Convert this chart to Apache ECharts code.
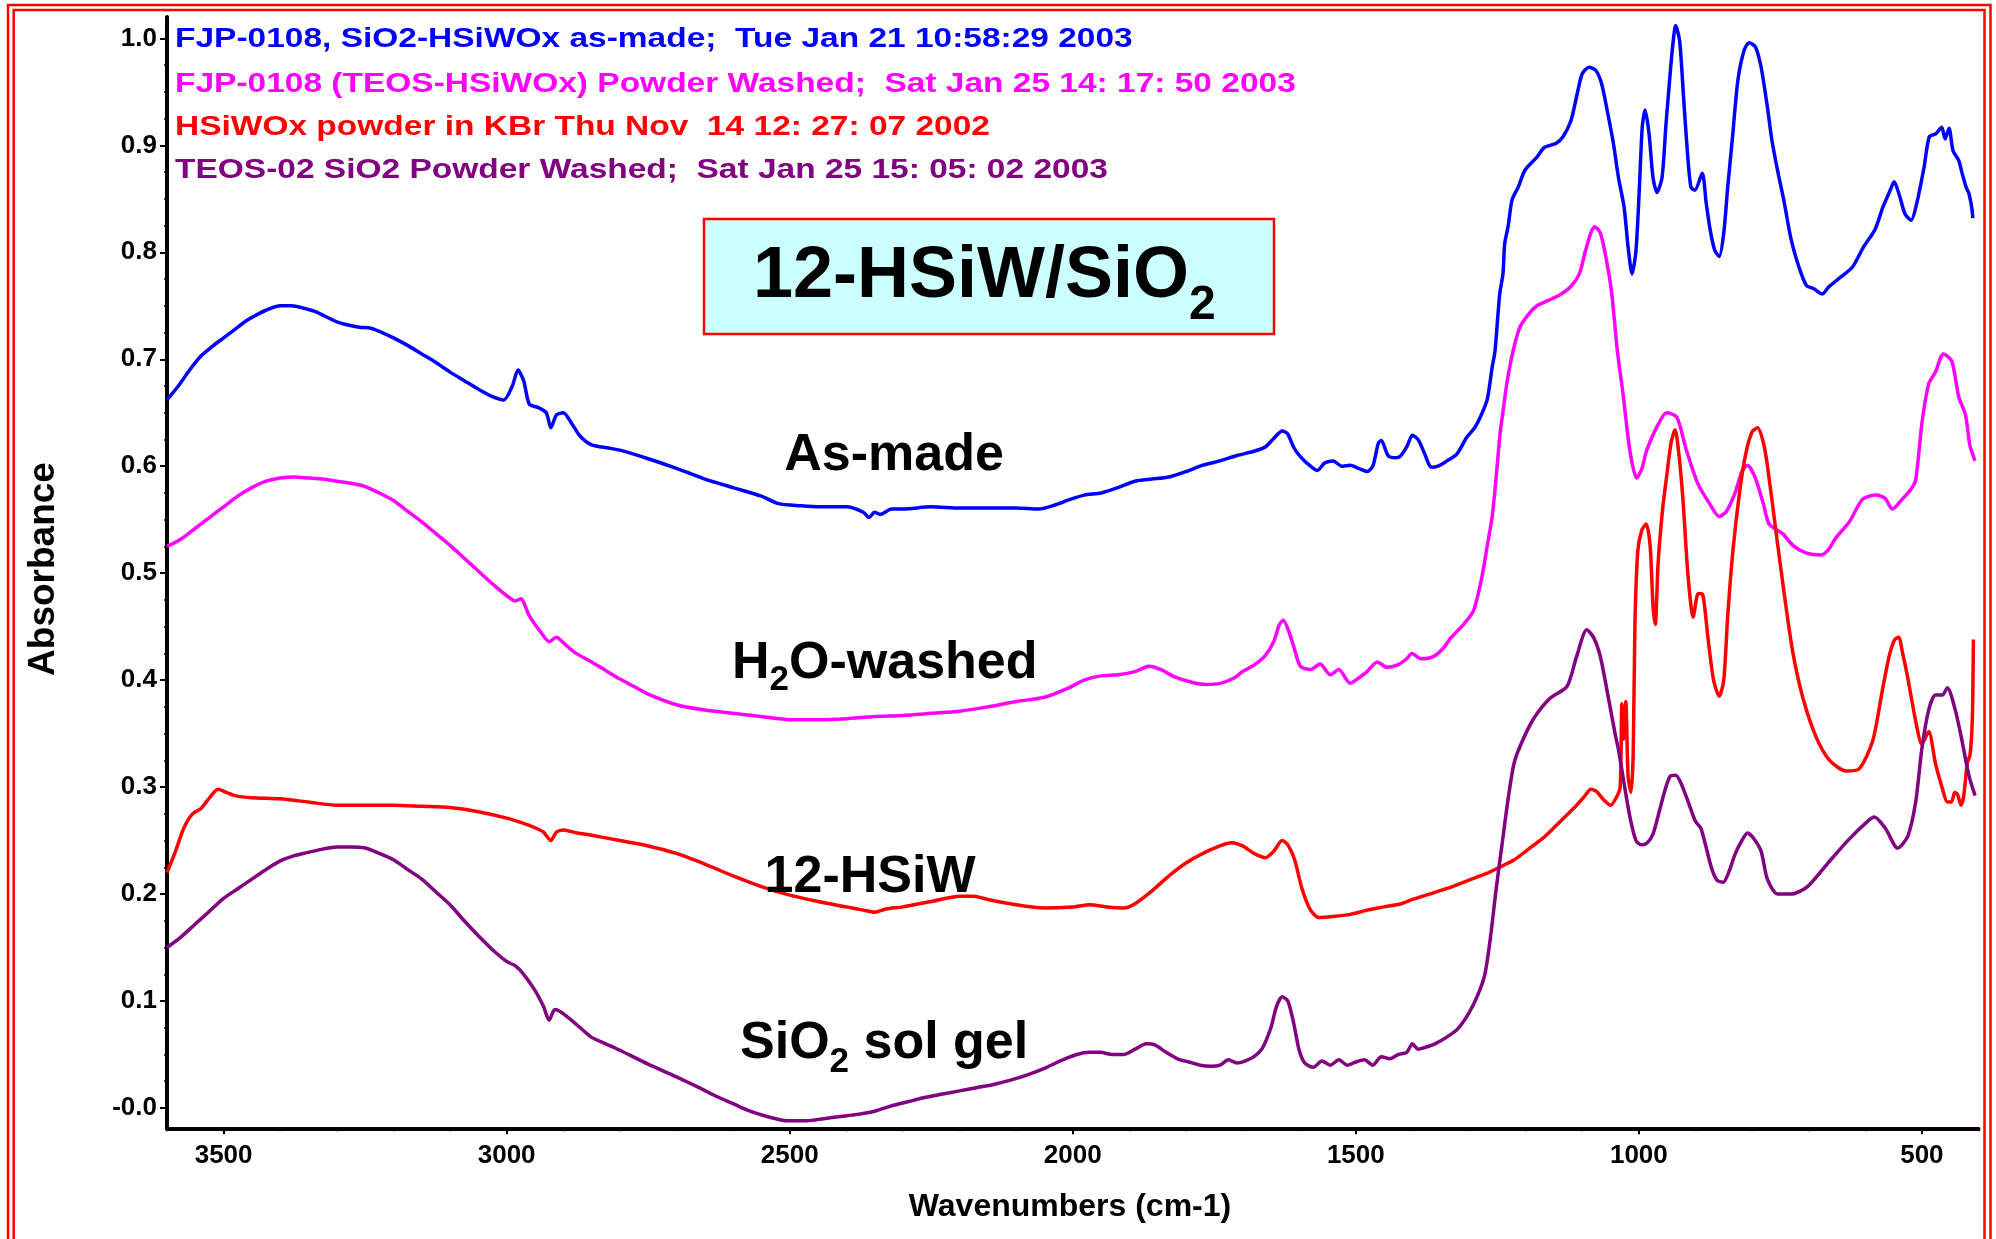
<!DOCTYPE html>
<html><head><meta charset="utf-8">
<script src="https://cdn.jsdelivr.net/npm/echarts@6/dist/echarts.min.js"></script>
<style>html,body{margin:0;padding:0;background:#fff}#c{width:1996px;height:1239px}</style>
</head><body><div id="c"></div>
<script>
// ---------------- DATA ----------------
const xMajorTicks = [3500, 3000, 2500, 2000, 1500, 1000, 500];
const xTickText = ['3500', '3000', '2500', '2000', '1500', '1000', '500'];
const yMajorTicks = [0, 0.1, 0.2, 0.3, 0.4, 0.5, 0.6, 0.7, 0.8, 0.9, 1.0];
const yTickText = ['-0.0', '0.1', '0.2', '0.3', '0.4', '0.5', '0.6', '0.7', '0.8', '0.9', '1.0'];

const legendLines = [
  'FJP-0108, SiO2-HSiWOx as-made;  Tue Jan 21 10:58:29 2003',
  'FJP-0108 (TEOS-HSiWOx) Powder Washed;  Sat Jan 25 14: 17: 50 2003',
  'HSiWOx powder in KBr Thu Nov  14 12: 27: 07 2002',
  'TEOS-02 SiO2 Powder Washed;  Sat Jan 25 15: 05: 02 2003'
];

// As-made (blue): [wavenumber, absorbance]
const asMade = [
[3600,0.662],[3580,0.675],[3560,0.690],[3540,0.703],[3520,0.712],[3500,0.720],[3480,0.728],[3460,0.736],[3440,0.742],[3420,0.747],
[3400,0.750],[3380,0.750],[3360,0.748],[3340,0.745],[3320,0.740],[3300,0.735],[3280,0.732],[3260,0.730],[3240,0.729],[3220,0.725],
[3200,0.720],[3175,0.713],[3150,0.705],[3125,0.697],[3100,0.688],[3075,0.680],[3050,0.672],[3025,0.665],[3005,0.662],[2990,0.675],
[2980,0.690],[2970,0.680],[2960,0.658],[2945,0.655],[2930,0.650],[2922,0.636],[2912,0.648],[2900,0.650],[2885,0.640],[2870,0.628],
[2850,0.620],[2820,0.617],[2800,0.615],[2750,0.607],[2700,0.598],[2650,0.588],[2600,0.580],[2550,0.572],[2520,0.565],[2480,0.563],
[2446,0.562],[2400,0.562],[2370,0.557],[2360,0.552],[2350,0.557],[2340,0.555],[2320,0.560],[2300,0.560],[2250,0.562],[2200,0.561],
[2150,0.561],[2100,0.561],[2060,0.560],[2030,0.564],[2010,0.568],[1980,0.573],[1950,0.575],[1920,0.580],[1890,0.586],[1860,0.588],
[1830,0.590],[1800,0.595],[1770,0.601],[1740,0.605],[1710,0.610],[1680,0.614],[1660,0.618],[1645,0.626],[1630,0.633],[1620,0.630],
[1610,0.618],[1598,0.609],[1580,0.600],[1568,0.596],[1555,0.603],[1540,0.605],[1525,0.600],[1510,0.601],[1495,0.598],[1480,0.595],
[1470,0.600],[1460,0.622],[1455,0.624],[1443,0.610],[1430,0.608],[1422,0.609],[1410,0.618],[1400,0.629],[1390,0.625],[1381,0.615],
[1366,0.599],[1355,0.600],[1339,0.605],[1322,0.611],[1304,0.627],[1290,0.636],[1280,0.646],[1268,0.662],[1259,0.693],[1254,0.708],
[1246,0.760],[1240,0.780],[1237,0.808],[1231,0.824],[1224,0.849],[1213,0.861],[1201,0.877],[1180,0.889],[1167,0.898],[1146,0.902],
[1134,0.908],[1120,0.923],[1109,0.948],[1100,0.967],[1088,0.973],[1076,0.970],[1066,0.958],[1056,0.933],[1045,0.902],[1036,0.870],
[1026,0.842],[1019,0.805],[1012,0.780],[1005,0.802],[999,0.861],[994,0.917],[989,0.933],[982,0.911],[975,0.870],[968,0.856],
[959,0.870],[952,0.920],[945,0.965],[940,0.994],[935,1.012],[928,0.998],[921,0.945],[914,0.892],[908,0.861],[901,0.858],
[888,0.874],[881,0.846],[874,0.821],[866,0.802],[858,0.796],[850,0.818],[843,0.861],[835,0.905],[825,0.961],[814,0.989],
[805,0.996],[794,0.992],[784,0.973],[773,0.936],[765,0.905],[754,0.874],[744,0.849],[731,0.812],[717,0.786],[704,0.769],
[691,0.766],[676,0.761],[664,0.768],[643,0.777],[623,0.786],[603,0.805],[583,0.821],[569,0.842],[556,0.858],[549,0.866],
[539,0.852],[530,0.836],[519,0.830],[509,0.846],[496,0.880],[487,0.908],[475,0.911],[465,0.917],[459,0.906],[452,0.916],
[445,0.895],[435,0.886],[429,0.874],[422,0.861],[417,0.855],[412,0.842],[410,0.832]
];

// H2O-washed (magenta)
const h2oWashed = [
[3600,0.525],[3575,0.532],[3550,0.542],[3525,0.552],[3500,0.562],[3475,0.572],[3450,0.580],[3425,0.586],[3400,0.589],[3375,0.590],
[3350,0.589],[3325,0.588],[3300,0.586],[3275,0.584],[3250,0.581],[3225,0.575],[3200,0.568],[3175,0.558],[3150,0.548],[3125,0.537],
[3100,0.526],[3075,0.514],[3050,0.502],[3025,0.490],[3000,0.479],[2985,0.474],[2975,0.476],[2960,0.460],[2940,0.445],[2925,0.436],
[2912,0.440],[2900,0.435],[2880,0.426],[2850,0.417],[2825,0.409],[2800,0.401],[2775,0.394],[2750,0.387],[2700,0.377],[2650,0.372],
[2600,0.369],[2550,0.366],[2500,0.363],[2450,0.363],[2400,0.364],[2350,0.366],[2300,0.367],[2250,0.369],[2200,0.371],[2150,0.375],
[2100,0.380],[2050,0.384],[2010,0.392],[1980,0.400],[1950,0.404],[1920,0.405],[1890,0.408],[1865,0.413],[1845,0.410],[1820,0.403],
[1790,0.398],[1765,0.396],[1740,0.397],[1715,0.402],[1700,0.408],[1680,0.414],[1660,0.423],[1645,0.436],[1635,0.452],[1628,0.456],
[1618,0.445],[1610,0.432],[1598,0.413],[1580,0.410],[1563,0.415],[1545,0.405],[1530,0.410],[1510,0.397],[1495,0.402],[1480,0.408],
[1462,0.417],[1445,0.412],[1427,0.414],[1410,0.420],[1401,0.425],[1385,0.420],[1363,0.422],[1345,0.430],[1333,0.439],[1310,0.452],
[1292,0.465],[1277,0.497],[1268,0.525],[1259,0.553],[1252,0.590],[1245,0.631],[1239,0.655],[1233,0.678],[1222,0.708],[1210,0.730],
[1195,0.742],[1180,0.750],[1160,0.755],[1140,0.760],[1120,0.768],[1105,0.780],[1095,0.800],[1085,0.818],[1078,0.824],[1068,0.818],
[1058,0.795],[1048,0.762],[1038,0.708],[1028,0.668],[1016,0.615],[1004,0.589],[995,0.597],[986,0.615],[968,0.637],[951,0.650],
[933,0.646],[916,0.615],[896,0.584],[875,0.565],[858,0.553],[845,0.558],[830,0.575],[818,0.595],[808,0.601],[795,0.590],
[780,0.565],[770,0.546],[746,0.537],[728,0.526],[705,0.519],[678,0.517],[665,0.522],[652,0.533],[628,0.548],[605,0.569],
[581,0.573],[565,0.570],[552,0.560],[535,0.569],[520,0.578],[511,0.587],[500,0.640],[488,0.677],[476,0.688],[462,0.705],
[447,0.698],[435,0.665],[423,0.648],[415,0.619],[406,0.605]
];

// 12-HSiW (red)
const hsiw = [
[3600,0.220],[3585,0.240],[3570,0.262],[3555,0.275],[3540,0.280],[3525,0.290],[3510,0.298],[3495,0.295],[3480,0.292],[3450,0.290],
[3400,0.289],[3350,0.286],[3300,0.283],[3250,0.283],[3200,0.283],[3150,0.282],[3100,0.281],[3050,0.277],[3000,0.271],[2970,0.266],
[2950,0.262],[2935,0.258],[2922,0.250],[2912,0.258],[2900,0.260],[2875,0.257],[2850,0.255],[2800,0.250],[2750,0.245],[2700,0.238],
[2650,0.228],[2600,0.217],[2550,0.207],[2500,0.199],[2450,0.193],[2400,0.188],[2370,0.185],[2350,0.183],[2330,0.186],[2300,0.188],
[2250,0.193],[2200,0.198],[2175,0.198],[2150,0.195],[2100,0.190],[2050,0.187],[2000,0.188],[1970,0.190],[1940,0.188],[1910,0.187],
[1890,0.191],[1860,0.203],[1830,0.217],[1800,0.229],[1770,0.238],[1740,0.245],[1720,0.248],[1700,0.245],[1680,0.238],[1660,0.234],
[1645,0.240],[1630,0.250],[1620,0.246],[1608,0.232],[1595,0.205],[1580,0.185],[1565,0.178],[1540,0.179],[1510,0.181],[1480,0.185],
[1450,0.188],[1420,0.191],[1400,0.195],[1370,0.200],[1340,0.205],[1300,0.213],[1270,0.219],[1250,0.224],[1220,0.232],[1200,0.240],
[1170,0.252],[1150,0.262],[1125,0.275],[1110,0.283],[1095,0.292],[1085,0.298],[1075,0.296],[1062,0.288],[1050,0.283],[1040,0.290],
[1033,0.300],[1030,0.378],[1027,0.345],[1023,0.380],[1019,0.310],[1014,0.295],[1010,0.330],[1007,0.450],[1002,0.520],[995,0.540],
[987,0.546],[980,0.525],[975,0.470],[971,0.452],[966,0.509],[958,0.560],[951,0.590],[943,0.622],[936,0.634],[929,0.610],
[922,0.568],[913,0.497],[904,0.459],[895,0.481],[887,0.480],[878,0.440],[868,0.400],[858,0.385],[850,0.400],[843,0.460],
[834,0.520],[822,0.576],[811,0.612],[800,0.632],[790,0.636],[780,0.622],[773,0.601],[758,0.540],[743,0.480],[728,0.426],
[710,0.383],[687,0.347],[663,0.325],[634,0.315],[611,0.317],[587,0.343],[570,0.390],[558,0.422],[548,0.438],[541,0.440],
[534,0.425],[526,0.405],[511,0.362],[500,0.340],[488,0.352],[476,0.322],[464,0.299],[455,0.286],[448,0.286],[442,0.295],
[437,0.293],[431,0.283],[426,0.292],[420,0.322],[415,0.330],[411,0.362],[409,0.438]
];

// SiO2 sol gel (purple)
const solGel = [
[3600,0.150],[3575,0.160],[3550,0.172],[3525,0.184],[3500,0.196],[3475,0.205],[3450,0.214],[3425,0.223],[3400,0.231],[3375,0.236],
[3350,0.239],[3325,0.242],[3300,0.244],[3275,0.244],[3250,0.243],[3225,0.238],[3200,0.232],[3175,0.223],[3150,0.214],[3125,0.202],
[3100,0.190],[3075,0.175],[3050,0.161],[3025,0.148],[3000,0.137],[2985,0.133],[2970,0.125],[2950,0.110],[2935,0.095],[2925,0.082],
[2915,0.092],[2905,0.090],[2890,0.084],[2870,0.075],[2850,0.066],[2825,0.060],[2800,0.054],[2750,0.041],[2700,0.029],[2660,0.019],
[2630,0.011],[2600,0.004],[2570,-0.003],[2540,-0.008],[2504,-0.012],[2469,-0.012],[2440,-0.010],[2410,-0.008],[2380,-0.006],[2350,-0.003],
[2320,0.002],[2290,0.006],[2260,0.010],[2230,0.013],[2200,0.016],[2170,0.019],[2140,0.022],[2110,0.026],[2080,0.031],[2050,0.037],
[2022,0.044],[1993,0.050],[1970,0.052],[1951,0.052],[1930,0.050],[1910,0.050],[1890,0.055],[1870,0.060],[1855,0.059],
[1835,0.052],[1815,0.046],[1795,0.043],[1775,0.040],[1755,0.039],[1740,0.040],[1725,0.045],[1710,0.042],[1695,0.044],[1680,0.048],
[1665,0.056],[1650,0.075],[1640,0.095],[1630,0.104],[1620,0.100],[1610,0.080],[1600,0.054],[1590,0.042],[1575,0.038],[1560,0.044],
[1545,0.040],[1530,0.045],[1515,0.040],[1500,0.043],[1485,0.045],[1470,0.040],[1455,0.048],[1440,0.046],[1425,0.050],[1410,0.052],
[1400,0.060],[1390,0.055],[1375,0.057],[1360,0.060],[1340,0.066],[1320,0.074],[1300,0.089],[1285,0.105],[1272,0.125],[1262,0.160],
[1252,0.205],[1242,0.245],[1232,0.285],[1221,0.321],[1210,0.338],[1187,0.363],[1157,0.383],[1127,0.394],[1110,0.422],[1092,0.447],
[1080,0.440],[1068,0.422],[1054,0.384],[1042,0.350],[1036,0.335],[1025,0.300],[1015,0.270],[1005,0.250],[995,0.246],[985,0.248],
[975,0.256],[965,0.275],[955,0.295],[945,0.310],[935,0.311],[925,0.303],[912,0.285],[900,0.268],[890,0.261],[872,0.225],
[862,0.213],[851,0.211],[840,0.222],[831,0.236],[820,0.248],[808,0.257],[797,0.252],[784,0.240],[773,0.214],[755,0.200],
[731,0.200],[702,0.207],[666,0.229],[631,0.250],[596,0.268],[584,0.272],[564,0.261],[543,0.243],[525,0.254],[511,0.286],
[500,0.336],[488,0.372],[476,0.386],[464,0.386],[455,0.393],[441,0.372],[429,0.343],[417,0.311],[406,0.292]
];

// ---------------- LAYOUT / STYLE ----------------
const FF = '"Liberation Sans", Arial, sans-serif';
const xMinorTicks = []; for (let v = 3600; v >= 400; v -= 100) xMinorTicks.push(v);
const yMinorTicks = []; for (let i = 0; i <= 40; i++) yMinorTicks.push(+(i * 0.025).toFixed(3));

const mctx = document.createElement('canvas').getContext('2d');
function tw(t, size) { mctx.font = 'bold ' + size + 'px ' + FF; return mctx.measureText(t).width; }
function txt(t, x, y, size, opts) {
  opts = opts || {};
  return Object.assign({
    type: 'text', x: x, y: y, z: 100, silent: true,
    style: {
      text: t, fontSize: size, fontWeight: 'bold', fontFamily: FF, fill: opts.color || '#000',
      align: opts.align || 'left', textAlign: opts.align || 'left',
      verticalAlign: 'middle', textVerticalAlign: 'middle'
    }
  }, opts.el || {});
}
function subLabel(parts, left, cy, F, Fs, cySub) {
  let x = left; const els = [];
  parts.forEach(function (p) {
    const sub = p[1]; const size = sub ? Fs : F;
    els.push(txt(p[0], x, sub ? cySub : cy, size));
    x += tw(p[0], size);
  });
  return els;
}

const legendColors = ['#0000ff', '#ff00ff', '#ff0000', '#800080'];
const legendY = [40, 85, 128, 171];

const graphics = [
  { type: 'rect', z: 1, silent: true, shape: { x: 8, y: 5, width: 1982.5, height: 1260 }, style: { fill: 'none', stroke: '#ff0000', lineWidth: 2.5 } },
  { type: 'rect', z: 1, silent: true, shape: { x: 13.7, y: 10, width: 1970.8, height: 1260 }, style: { fill: 'none', stroke: '#ff0000', lineWidth: 2.5 } },
  { type: 'rect', z: 50, silent: true, shape: { x: 704, y: 219, width: 570, height: 115 }, style: { fill: '#ccffff', stroke: '#ff0000', lineWidth: 2.5 } }
];
legendLines.forEach(function (t, i) {
  graphics.push(txt(t, 175, legendY[i], 27, { color: legendColors[i], el: { scaleX: 1.24, originX: 0, originY: 0 } }));
});
graphics.push.apply(graphics, subLabel([['12-HSiW/SiO', false], ['2', true]], 753, 277, 72, 48, 306));
graphics.push(txt('As-made', 894, 456, 52, { align: 'center' }));
graphics.push.apply(graphics, subLabel([['H', false], ['2', true], ['O-washed', false]], 732, 664, 52, 35, 680));
graphics.push(txt('12-HSiW', 870, 878, 52, { align: 'center' }));
graphics.push.apply(graphics, subLabel([['SiO', false], ['2', true], [' sol gel', false]], 740, 1044, 52, 35, 1062));
graphics.push(txt('Absorbance', 44, 569, 37, { align: 'center', el: { rotation: Math.PI / 2 } }));
graphics.push(txt('Wavenumbers (cm-1)', 1070, 1207, 32, { align: 'center' }));

function mkSeries(name, data, color) {
  return {
    name: name, type: 'line', data: data, showSymbol: false, smooth: 0.25,
    xAxisIndex: 0, yAxisIndex: 0, clip: true,
    lineStyle: { color: color, width: 3.5 }, itemStyle: { color: color }, emphasis: { disabled: true }
  };
}

const axisLineStyle = { color: '#000', width: 4 };
const option = {
  animation: false,
  backgroundColor: '#ffffff',
  grid: { left: 167, right: 17.5, top: 17, bottom: 110.7, containLabel: false, outerBoundsMode: 'none' },
  xAxis: [
    {
      type: 'value', min: 400, max: 3600, inverse: true, position: 'bottom',
      axisLine: { show: true, onZero: false, lineStyle: axisLineStyle },
      axisTick: { show: true, customValues: xMajorTicks, length: 6, lineStyle: { color: '#000', width: 2 } },
      axisLabel: {
        show: true, customValues: xMajorTicks, margin: 15, color: '#000', fontSize: 26, fontWeight: 'bold', fontFamily: FF,
        formatter: function (v) { const i = xMajorTicks.indexOf(v); return i >= 0 ? xTickText[i] : ''; }
      },
      splitLine: { show: false }, minorTick: { show: false }
    },
    {
      type: 'value', min: 400, max: 3600, inverse: true, position: 'bottom',
      axisLine: { show: false, onZero: false },
      axisTick: { show: true, customValues: xMinorTicks, length: 3, lineStyle: { color: '#000', width: 1.5 } },
      axisLabel: { show: false }, splitLine: { show: false }
    }
  ],
  yAxis: [
    {
      type: 'value', min: -0.019, max: 1.02, position: 'left',
      axisLine: { show: true, onZero: false, lineStyle: axisLineStyle },
      axisTick: { show: true, customValues: yMajorTicks, length: 7, lineStyle: { color: '#000', width: 2 } },
      axisLabel: {
        show: true, customValues: yMajorTicks, margin: 10, color: '#000', fontSize: 26, fontWeight: 'bold', fontFamily: FF,
        formatter: function (v) { const i = yMajorTicks.findIndex(function (t) { return Math.abs(t - v) < 1e-6; }); return i >= 0 ? yTickText[i] : ''; }
      },
      splitLine: { show: false }
    },
    {
      type: 'value', min: -0.019, max: 1.02, position: 'left',
      axisLine: { show: false, onZero: false },
      axisTick: { show: true, customValues: yMinorTicks, length: 3, lineStyle: { color: '#000', width: 1.5 } },
      axisLabel: { show: false }, splitLine: { show: false }
    }
  ],
  series: [
    mkSeries('As-made', asMade, '#0000ff'),
    mkSeries('H2O-washed', h2oWashed, '#ff00ff'),
    mkSeries('12-HSiW', hsiw, '#ff0000'),
    mkSeries('SiO2 sol gel', solGel, '#800080')
  ],
  graphic: { elements: graphics }
};

const chart = echarts.init(document.getElementById('c'), null, { renderer: 'canvas', width: 1996, height: 1239 });
chart.setOption(option);
</script>
</body></html>
